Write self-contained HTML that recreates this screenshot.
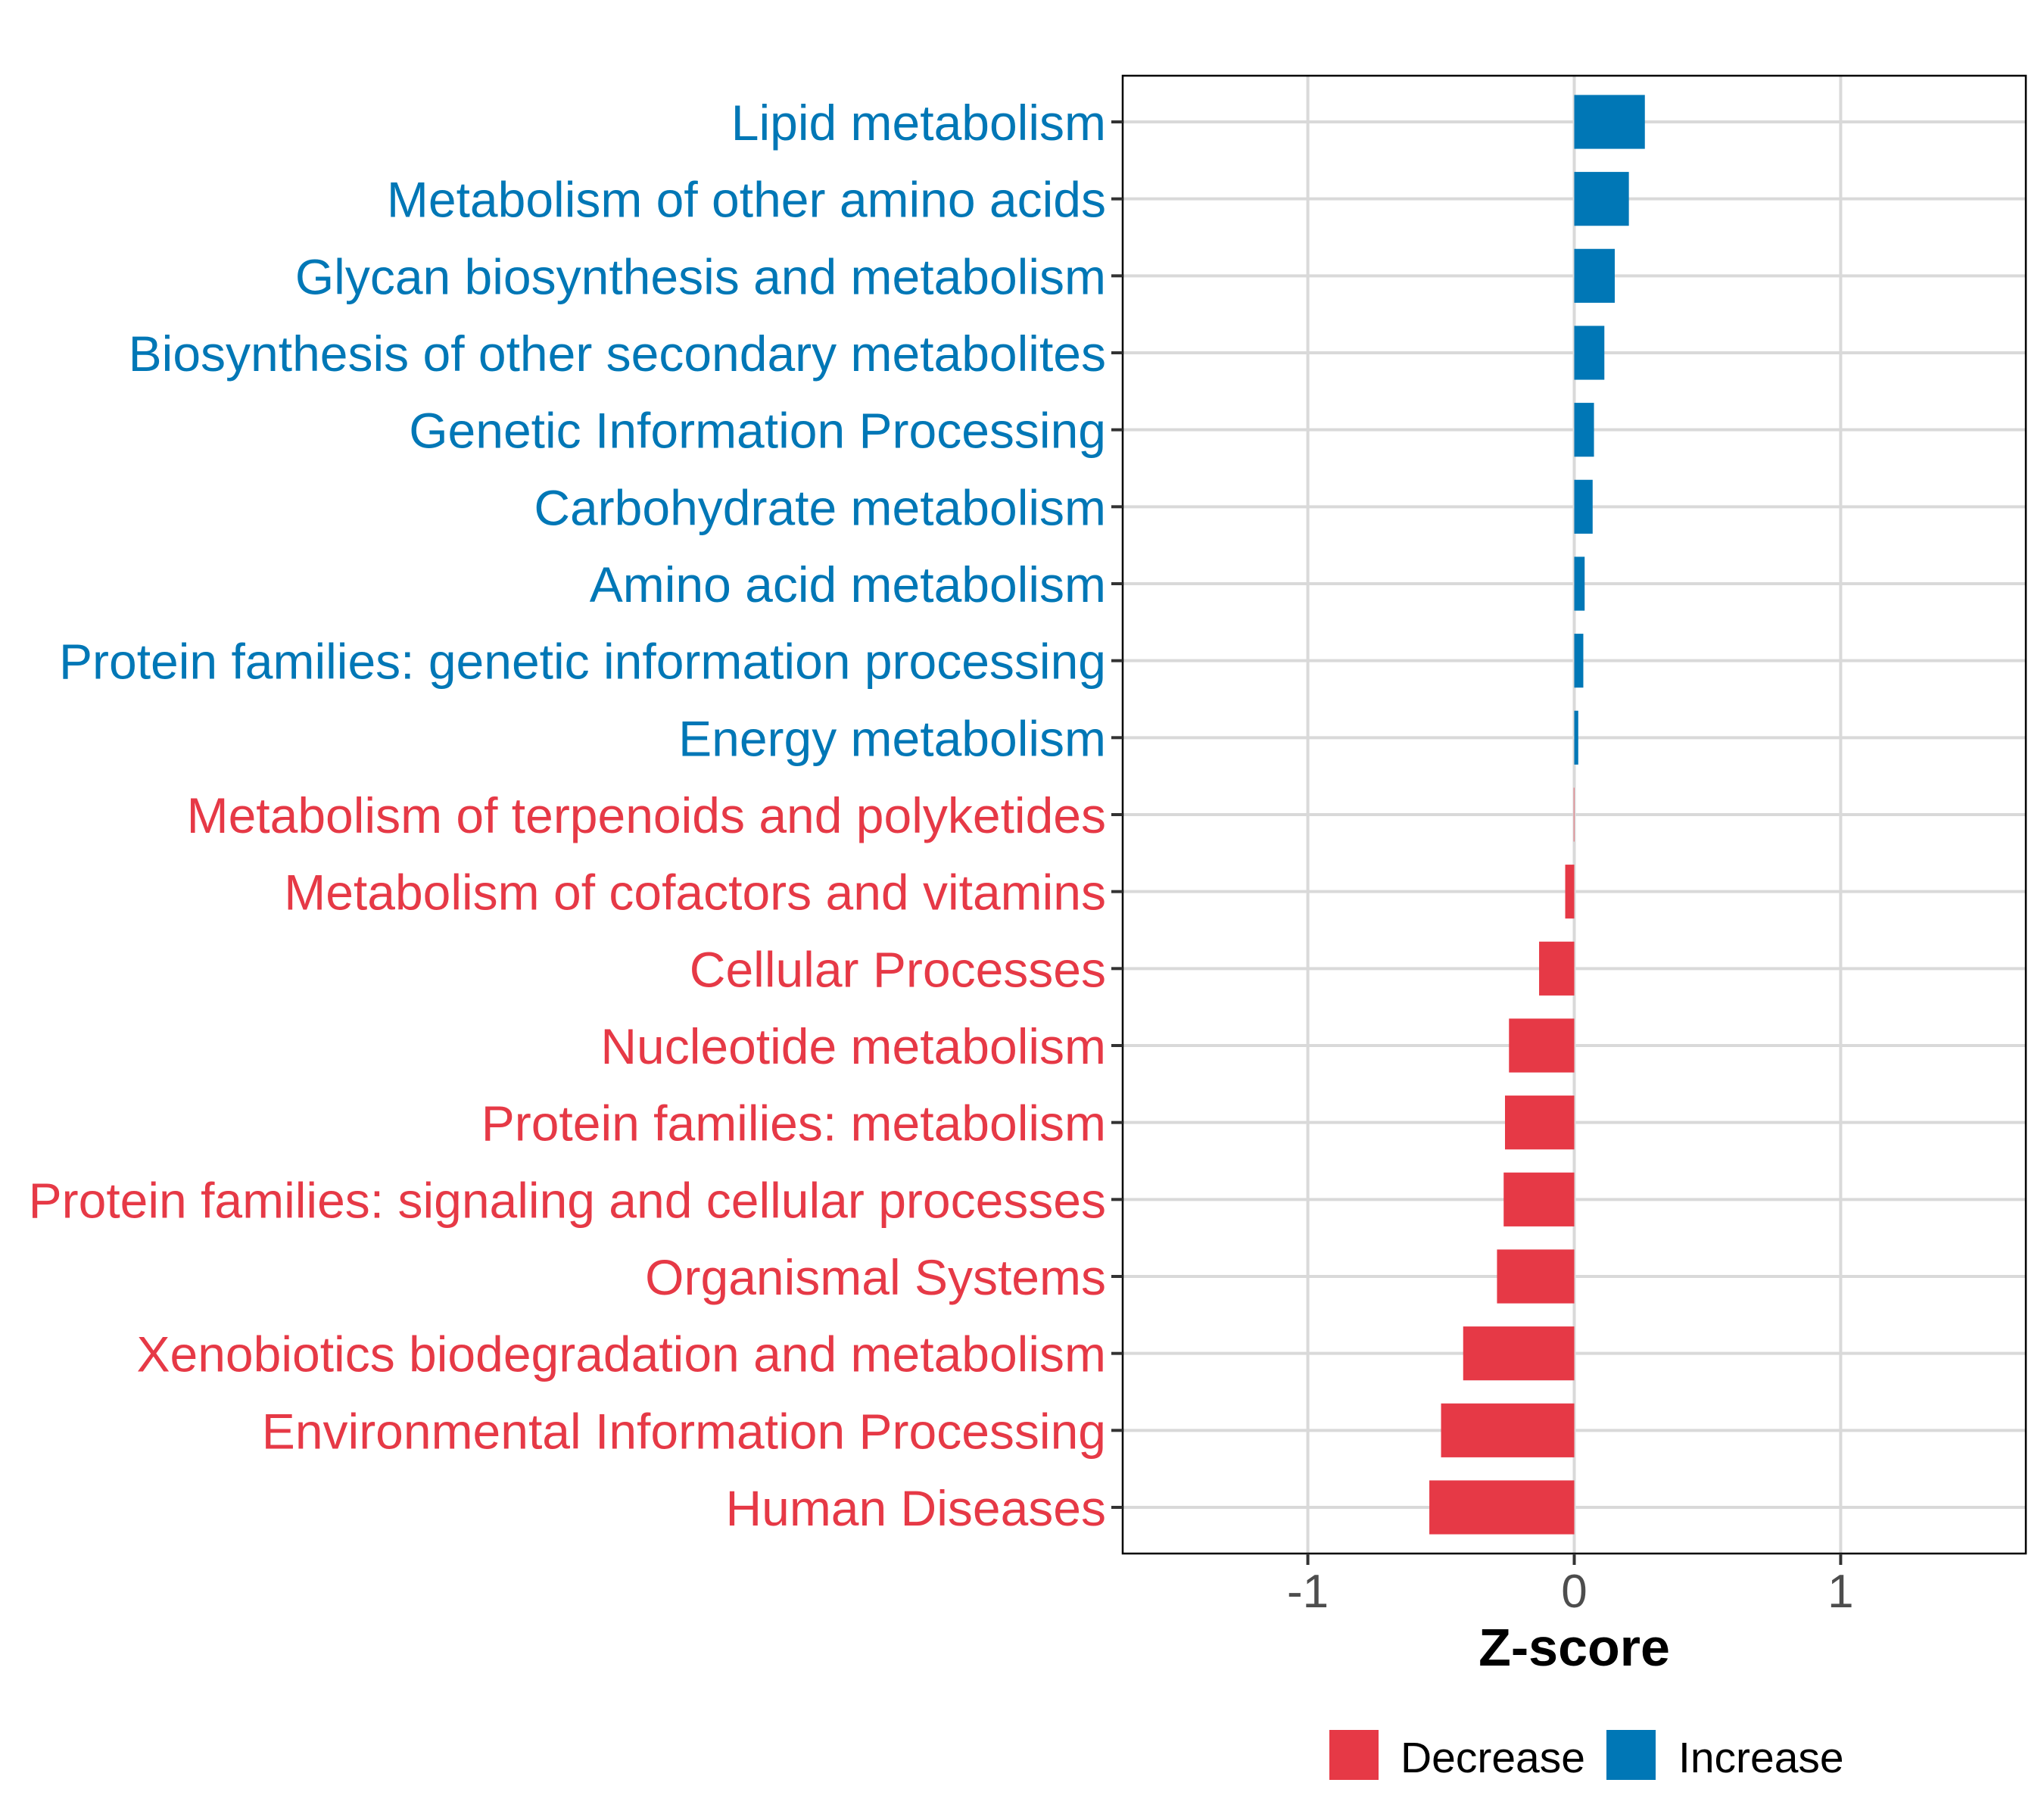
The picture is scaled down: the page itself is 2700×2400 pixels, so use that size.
<!DOCTYPE html>
<html><head><meta charset="utf-8"><style>
html,body{margin:0;padding:0;background:#fff;}
svg{display:block;font-family:"Liberation Sans",Arial,sans-serif;}
</style></head><body>
<svg id="chart" width="2700" height="2400" viewBox="0 0 2700 2400"></svg>
<script>
const categories = ["Lipid metabolism","Metabolism of other amino acids","Glycan biosynthesis and metabolism","Biosynthesis of other secondary metabolites","Genetic Information Processing","Carbohydrate metabolism","Amino acid metabolism","Protein families: genetic information processing","Energy metabolism","Metabolism of terpenoids and polyketides","Metabolism of cofactors and vitamins","Cellular Processes","Nucleotide metabolism","Protein families: metabolism","Protein families: signaling and cellular processes","Organismal Systems","Xenobiotics biodegradation and metabolism","Environmental Information Processing","Human Diseases"];
const zscores = [0.265,0.205,0.152,0.113,0.074,0.069,0.039,0.034,0.015,-0.002,-0.034,-0.132,-0.245,-0.26,-0.265,-0.29,-0.417,-0.5,-0.544];
const xTicks = [-1,0,1];
const xTickLabels = ["-1","0","1"];
const legendLabels = ["Decrease","Increase"];

const NS="http://www.w3.org/2000/svg";
const svg=document.getElementById('chart');
const RED="#e63946", BLUE="#0077b6";
const P={l:1483,r:2676,t:100,b:2052};
const xMin=-1.695,xMax=1.695;
const xs=v=>P.l+(v-xMin)/(xMax-xMin)*(P.r-P.l);
const step=(P.b-P.t)/(categories.length-1+1.2);
const ys=i=>P.t+0.6*step+i*step;
function mk(tag,attrs,parent){const e=document.createElementNS(NS,tag);for(const k in attrs)e.setAttribute(k,attrs[k]);(parent||svg).appendChild(e);return e;}

const grid=mk('g',{});


xTicks.forEach(t=>{const l=mk('line',{x1:xs(t),x2:xs(t),y1:P.t,y2:P.b,stroke:'#d9d9d9','stroke-width':4},grid);

});
categories.forEach((c,i)=>{const l=mk('line',{x1:P.l,x2:P.r,y1:ys(i),y2:ys(i),stroke:'#d9d9d9','stroke-width':4},grid);

});

const bars=mk('g',{});


const bh=step*0.7;
zscores.forEach((v,i)=>{const x0=xs(0),x1=xs(v);
const r=mk('rect',{x:Math.min(x0,x1),y:ys(i)-bh/2,width:Math.max(Math.abs(x1-x0),0.5),height:bh,fill:v>=0?BLUE:RED},bars);

});

const frame=mk('rect',{x:P.l,y:P.t,width:P.r-P.l,height:P.b-P.t,fill:'none',stroke:'#000','stroke-width':2.5});



const yl=mk('g',{});


categories.forEach((c,i)=>{
const tk=mk('line',{x1:P.l-15,x2:P.l,y1:ys(i),y2:ys(i),stroke:'#333','stroke-width':4},yl);


const t=mk('text',{x:P.l-22,y:ys(i)+24,'text-anchor':'end','font-size':66,fill:zscores[i]>0?BLUE:RED},yl);
t.textContent=c;

});

const xl=mk('g',{});


xTicks.forEach((t,i)=>{
const tk=mk('line',{x1:xs(t),x2:xs(t),y1:P.b,y2:P.b+15,stroke:'#333','stroke-width':4},xl);


const tx=mk('text',{x:xs(t),y:2123,'text-anchor':'middle','font-size':62,fill:'#4d4d4d'},xl);
tx.textContent=xTickLabels[i];

});
const title=mk('text',{x:xs(0),y:2200,'text-anchor':'middle','font-size':70,'font-weight':'bold',fill:'#000'});
title.textContent="Z-score";



const lg=mk('g',{});


const lx=[1756,2122],tx=[1850,2217],cols=[RED,BLUE];
legendLabels.forEach((s,i)=>{
const r=mk('rect',{x:lx[i],y:2285,width:65,height:66,fill:cols[i]},lg);


const t=mk('text',{x:tx[i],y:2341,'font-size':57,fill:'#000'},lg);
t.textContent=s;

});
</script>
</body></html>
